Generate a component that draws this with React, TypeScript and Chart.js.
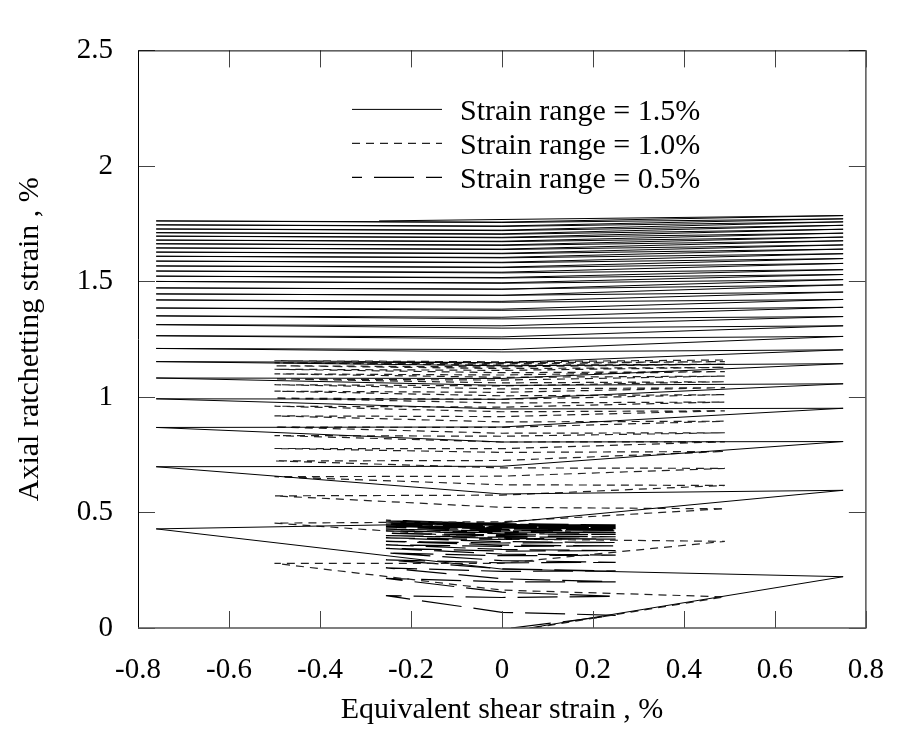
import React, { useEffect, useRef } from "react";
import { Chart, registerables } from "chart.js";
Chart.register(...registerables);

const FONT = '"Liberation Serif", "Times New Roman", serif';

// ---- axes ----
const xTickValues = [-0.8, -0.6, -0.4, -0.2, 0, 0.2, 0.4, 0.6, 0.8];
const xTickLabels = ["-0.8", "-0.6", "-0.4", "-0.2", "0", "0.2", "0.4", "0.6", "0.8"];
const yTickValues = [0, 0.5, 1, 1.5, 2, 2.5];
const yTickLabels = ["0", "0.5", "1", "1.5", "2", "2.5"];
const xTitle = "Equivalent shear strain , %";
const yTitle = "Axial ratchetting strain , %";

const seriesNames = ["Strain range = 1.5%", "Strain range = 1.0%", "Strain range = 0.5%"];

// ---- Strain range = 1.5% ----
const r15Start = [0.06, 0.0];
const r15RightX = 0.75;
const r15LeftX = -0.76;
// reversal values, alternating right end, left end (starting right)
const r15Reversals = [
  0.222, 0.429, 0.596, 0.698, 0.807, 0.868, 0.951, 0.992, 1.057, 1.082,
  1.144, 1.153, 1.204, 1.21, 1.262, 1.265, 1.308, 1.313, 1.348, 1.351,
  1.388, 1.385, 1.422, 1.42, 1.454, 1.446, 1.485, 1.472, 1.508, 1.5,
  1.53, 1.523, 1.551, 1.545, 1.578, 1.567, 1.599, 1.588, 1.62, 1.609,
  1.64, 1.627, 1.658, 1.645, 1.676, 1.663, 1.692, 1.679, 1.709, 1.696,
  1.726, 1.711, 1.743, 1.727, 1.758, 1.745, 1.771, 1.762, 1.785,
];
// value at zero shear strain within each half cycle
const r15Mids = [
  0.255, 0.455, 0.58, 0.7, 0.805, 0.87, 0.948, 0.99, 1.05, 1.08,
  1.135, 1.148, 1.195, 1.205, 1.252, 1.26, 1.298, 1.308, 1.338, 1.345,
  1.375, 1.38, 1.41, 1.414, 1.44, 1.44, 1.467, 1.466, 1.492, 1.494,
  1.515, 1.517, 1.537, 1.54, 1.56, 1.562, 1.581, 1.583, 1.602, 1.604,
  1.62, 1.622, 1.638, 1.64, 1.656, 1.658, 1.672, 1.674, 1.689, 1.691,
  1.704, 1.706, 1.72, 1.722, 1.738, 1.74, 1.755, 1.757,
];
const r15End = [-0.27, 1.762];

// ---- Strain range = 1.0% ----
const r10Start = [0.07, 0.0];
const r10RightX = 0.49;
const r10LeftX = -0.5;
const r10Reversals = [
  0.135, 0.28, 0.375, 0.454, 0.516, 0.572, 0.617, 0.655, 0.691, 0.723,
  0.764, 0.777, 0.806, 0.833, 0.845, 0.87, 0.895, 0.918, 0.94, 0.96,
  0.978, 0.995, 1.01, 1.025, 1.04, 1.053, 1.066, 1.078, 1.09, 1.1,
  1.11, 1.12, 1.128, 1.135, 1.142, 1.148, 1.153, 1.157, 1.16,
];
const r10Mids = [
  0.164, 0.28, 0.385, 0.46, 0.522, 0.575, 0.62, 0.657, 0.693, 0.725,
  0.76, 0.776, 0.805, 0.83, 0.843, 0.868, 0.892, 0.915, 0.936, 0.956,
  0.974, 0.99, 1.005, 1.02, 1.035, 1.048, 1.061, 1.073, 1.085, 1.095,
  1.105, 1.115, 1.123, 1.13, 1.137, 1.143, 1.148, 1.152,
];

// ---- Strain range = 0.5% ----
const r05Start = [0.02, 0.0];
const r05RightX = 0.25;
const r05LeftX = -0.255;
const r05Reversals = [
  0.055, 0.14, 0.137, 0.215, 0.2, 0.26, 0.247, 0.295, 0.284, 0.325,
  0.315, 0.345, 0.335, 0.36, 0.355, 0.375, 0.37, 0.39, 0.385, 0.4,
  0.395, 0.41, 0.405, 0.42, 0.413, 0.428, 0.42, 0.435, 0.425, 0.44,
  0.43, 0.445, 0.434, 0.45, 0.437, 0.455, 0.44, 0.458, 0.442, 0.461,
  0.444, 0.464, 0.446, 0.467,
];
const r05Mids = [
  0.068, 0.132, 0.155, 0.2, 0.213, 0.245, 0.256, 0.282, 0.292, 0.313,
  0.32, 0.333, 0.34, 0.353, 0.359, 0.368, 0.374, 0.383, 0.388, 0.393,
  0.398, 0.403, 0.408, 0.412, 0.416, 0.42, 0.423, 0.426, 0.428, 0.432,
  0.433, 0.436, 0.437, 0.44, 0.44, 0.444, 0.443, 0.447, 0.445, 0.45,
  0.447, 0.452, 0.449,
];

function buildPath(
  start: number[],
  rightX: number,
  leftX: number,
  rev: number[],
  mids: number[],
  end?: number[]
) {
  const pts: { x: number; y: number }[] = [{ x: start[0], y: start[1] }];
  rev.forEach((y, i) => {
    if (i > 0 && mids[i - 1] != null) pts.push({ x: 0, y: mids[i - 1] });
    pts.push({ x: i % 2 === 0 ? rightX : leftX, y });
  });
  if (end) pts.push({ x: end[0], y: end[1] });
  return pts;
}

const frameAndLegend = {
  id: "frameAndLegend",
  afterDraw(chart: any) {
    const { ctx, chartArea } = chart;
    const { left, right, top, bottom } = chartArea;
    const xs = chart.scales.x;
    const ys = chart.scales.y;
    ctx.save();
    // inward tick marks
    ctx.strokeStyle = "#444";
    ctx.lineWidth = 1;
    ctx.setLineDash([]);
    const tl = 17;
    ctx.beginPath();
    xTickValues.forEach((v) => {
      const px = Math.round(xs.getPixelForValue(v)) + 0.5;
      ctx.moveTo(px, bottom);
      ctx.lineTo(px, bottom - tl);
      ctx.moveTo(px, top);
      ctx.lineTo(px, top + tl);
    });
    yTickValues.forEach((v) => {
      const py = Math.round(ys.getPixelForValue(v)) + 0.5;
      ctx.moveTo(left, py);
      ctx.lineTo(left + tl, py);
      ctx.moveTo(right, py);
      ctx.lineTo(right - tl, py);
    });
    ctx.stroke();
    // frame: top/left crisp black, right/bottom slightly grey
    ctx.strokeStyle = "#000";
    ctx.lineWidth = 1;
    ctx.beginPath();
    ctx.moveTo(left + 0.5, bottom);
    ctx.lineTo(left + 0.5, top + 0.5);
    ctx.lineTo(right, top + 0.5);
    ctx.stroke();
    ctx.strokeStyle = "#555";
    ctx.lineWidth = 1.5;
    ctx.beginPath();
    ctx.moveTo(right, top);
    ctx.lineTo(right, bottom);
    ctx.lineTo(left, bottom);
    ctx.stroke();
    // legend
    chart.data.datasets.forEach((ds: any, i: number) => {
      const base = top + 70 + i * 34;
      const ly = base - 11;
      ctx.beginPath();
      ctx.strokeStyle = ds.borderColor;
      ctx.lineWidth = ds.borderWidth;
      ctx.setLineDash(ds.borderDash || []);
      ctx.lineDashOffset = i === 2 ? 30 : 0;
      ctx.moveTo(left + 214, ly);
      ctx.lineTo(left + 304, ly);
      ctx.stroke();
      ctx.setLineDash([]);
      ctx.fillStyle = "#000";
      ctx.font = `30px ${FONT}`;
      ctx.textBaseline = "alphabetic";
      ctx.textAlign = "left";
      ctx.fillText(ds.label, left + 322, base);
    });
    ctx.restore();
  },
};

export default function App() {
  const ref = useRef<HTMLCanvasElement | null>(null);
  useEffect(() => {
    if (!ref.current) return;
    const chart = new Chart(ref.current, {
      type: "scatter",
      data: {
        datasets: [
          {
            label: seriesNames[0],
            data: buildPath(r15Start, r15RightX, r15LeftX, r15Reversals, r15Mids, r15End),
            showLine: true,
            borderColor: "#000",
            borderWidth: 1,
            pointRadius: 0,
            tension: 0,
          },
          {
            label: seriesNames[1],
            data: buildPath(r10Start, r10RightX, r10LeftX, r10Reversals, r10Mids),
            showLine: true,
            borderColor: "#222",
            borderWidth: 1.2,
            borderDash: [8, 6],
            pointRadius: 0,
            tension: 0,
          },
          {
            label: seriesNames[2],
            data: buildPath(r05Start, r05RightX, r05LeftX, r05Reversals, r05Mids),
            showLine: true,
            borderColor: "#000",
            borderWidth: 1.2,
            borderDash: [40, 12],
            pointRadius: 0,
            tension: 0,
          },
        ],
      },
      plugins: [frameAndLegend],
      options: {
        animation: false,
        responsive: true,
        maintainAspectRatio: false,
        devicePixelRatio: 1,
        layout: { padding: { top: 16, right: 16, left: 0, bottom: 0 } },
        plugins: { legend: { display: false }, tooltip: { enabled: false } },
        scales: {
          x: {
            type: "linear",
            min: -0.8,
            max: 0.8,
            afterBuildTicks: (s: any) => {
              s.ticks = xTickValues.map((v) => ({ value: v }));
            },
            afterFit: (s: any) => {
              s.height = 101;
            },
            grid: { display: false, drawTicks: false },
            border: { display: false },
            ticks: {
              autoSkip: false,
              maxRotation: 0,
              padding: 25,
              color: "#000",
              font: { family: FONT, size: 29 },
              callback: (v: any) => xTickLabels[xTickValues.indexOf(Number(v))] ?? "",
            },
            title: {
              display: true,
              text: xTitle,
              color: "#000",
              font: { family: FONT, size: 30 },
              padding: { top: 0, bottom: 1 },
            },
          },
          y: {
            type: "linear",
            min: 0,
            max: 2.5,
            afterBuildTicks: (s: any) => {
              s.ticks = yTickValues.map((v) => ({ value: v }));
            },
            afterFit: (s: any) => {
              s.width = 130;
            },
            grid: { display: false, drawTicks: false },
            border: { display: false },
            ticks: {
              autoSkip: false,
              padding: 25,
              color: "#000",
              font: { family: FONT, size: 29 },
              callback: (v: any) => yTickLabels[yTickValues.indexOf(Number(v))] ?? "",
            },
            title: {
              display: true,
              text: yTitle,
              color: "#000",
              font: { family: FONT, size: 30 },
              padding: { top: 4, bottom: 0 },
            },
          },
        },
      },
    });
    return () => chart.destroy();
  }, []);
  return (
    <div style={{ width: 901, height: 721, position: "relative" }}>
      <canvas ref={ref} />
    </div>
  );
}
